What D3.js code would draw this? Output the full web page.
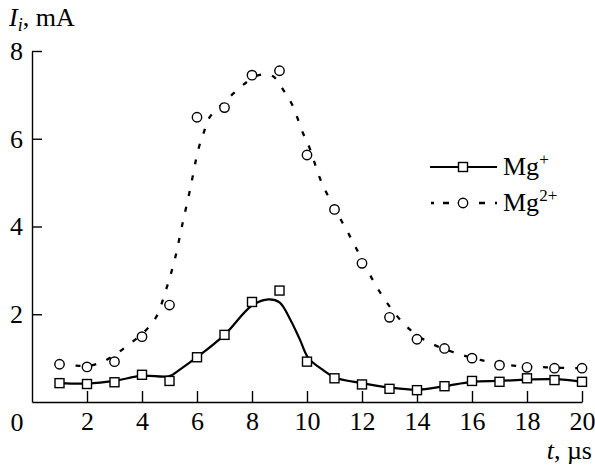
<!DOCTYPE html>
<html>
<head>
<meta charset="utf-8">
<script src="https://cdn.jsdelivr.net/npm/d3@7"></script>
<style>
  body { margin: 0; background: #fff; }
</style>
</head>
<body>
<div id="chart"></div>
<script>
// measured points (t in us, current in mA)
const times = [1,2,3,4,5,6,7,8,9,10,11,12,13,14,15,16,17,18,19,20];
const mgPlus = [0.43,0.41,0.45,0.62,0.48,1.02,1.53,2.28,2.54,0.92,0.54,0.40,0.30,0.27,0.36,0.48,0.46,0.54,0.50,0.46];
const mg2Plus = [0.86,0.80,0.92,1.49,2.21,6.49,6.71,7.45,7.55,5.63,4.39,3.16,1.93,1.43,1.22,1.00,0.84,0.79,0.77,0.77];

// fitted curves as [t, value]
const fitPlus = [[1,0.43],[2,0.42],[3,0.48],[4,0.6],[5,0.59],[5.4,0.75],[6,1.02],[7,1.53],[8,2.2],[8.6,2.34],
  [9,2.27],[9.4,1.87],[9.75,1.41],[10.05,1.0],[10.6,0.72],[11,0.56],[12,0.43],[13,0.33],[14,0.28],[15,0.36],
  [16,0.46],[17,0.48],[18,0.51],[19,0.52],[20,0.46]];
const fit2Plus = [[1,0.86],[1.6,0.83],[2,0.82],[2.5,0.9],[3,1.07],[3.5,1.3],[4,1.55],[4.5,1.92],[4.87,2.55],
  [5.2,3.27],[5.45,4.0],[5.75,4.85],[6.05,5.76],[6.25,6.15],[6.45,6.48],[6.85,6.75],[7.25,6.99],[7.7,7.24],
  [8.25,7.45],[8.75,7.43],[9.13,7.12],[9.45,6.79],[9.86,6.12],[10.1,5.78],[10.5,5.05],[11,4.42],[11.5,3.85],
  [12,3.25],[12.5,2.66],[13,2.18],[13.5,1.8],[14,1.52],[14.7,1.28],[15.3,1.14],[16.3,0.96],[17.5,0.83],
  [18.7,0.79],[20,0.77]];

const xTicks = [2,4,6,8,10,12,14,16,18,20];
const yTicks = [2,4,6,8];
const legendLabels = [["Mg", "+"], ["Mg", "2+"]];

const width = 595, height = 466;
const serif = "Liberation Serif";
const fs = 26;

const svg = d3.select("#chart").append("svg")
  .attr("width", width)
  .attr("height", height)
  .attr("font-family", serif);

const x = d3.scaleLinear().domain([0, 20]).range([32, 582]);
const y = d3.scaleLinear().domain([0, 8]).range([402, 51]);

// axes, ticks point inward
const gx = svg.append("g")
  .attr("transform", `translate(0,${y(0)})`)
  .call(d3.axisBottom(x).tickValues(xTicks).tickSizeInner(-11).tickSizeOuter(0).tickPadding(10));
const gy = svg.append("g")
  .attr("transform", `translate(${x(0)},0)`)
  .call(d3.axisLeft(y).tickValues(yTicks).tickSizeInner(-10).tickSizeOuter(0).tickPadding(9));

[gx, gy].forEach(g => {
  g.attr("font-family", serif).attr("font-size", fs);
  g.selectAll(".domain, line").attr("stroke", "#000").attr("stroke-width", 1.4);
  g.selectAll("text").attr("font-family", serif).attr("fill", "#000");
});

svg.append("text").attr("x", 17).attr("y", 431)
  .attr("text-anchor", "middle").attr("font-size", fs).text("0");

// axis titles
const yt = svg.append("text").attr("x", 9).attr("y", 26).attr("font-size", fs);
yt.append("tspan").attr("font-style", "italic").text("I");
yt.append("tspan").attr("font-style", "italic").attr("font-size", 18).attr("dy", 5).text("i");
yt.append("tspan").attr("dy", -5).text(", mA");

const xt = svg.append("text").attr("x", 592).attr("y", 459).attr("text-anchor", "end").attr("font-size", fs);
xt.append("tspan").attr("font-style", "italic").text("t");
xt.append("tspan").text(", \u00b5s");

const line = d3.line().x(d => x(d[0])).y(d => y(d[1])).curve(d3.curveCatmullRom.alpha(0.5));

svg.append("path").datum(fitPlus)
  .attr("fill", "none").attr("stroke", "#000").attr("stroke-width", 2.2)
  .attr("d", line);

svg.append("path").datum(fit2Plus)
  .attr("fill", "none").attr("stroke", "#000").attr("stroke-width", 2.3)
  .attr("stroke-dasharray", "5,11")
  .attr("d", line);

const sq = 9;
svg.append("g").selectAll("rect")
  .data(times.map((t, i) => [t, mgPlus[i]]))
  .join("rect")
  .attr("x", d => x(d[0]) - sq / 2).attr("y", d => y(d[1]) - sq / 2)
  .attr("width", sq).attr("height", sq)
  .attr("fill", "#fff").attr("stroke", "#000").attr("stroke-width", 1.4);

svg.append("g").selectAll("circle")
  .data(times.map((t, i) => [t, mg2Plus[i]]))
  .join("circle")
  .attr("cx", d => x(d[0])).attr("cy", d => y(d[1])).attr("r", 4.7)
  .attr("fill", "#fff").attr("stroke", "#000").attr("stroke-width", 1.4);

// legend
const lg = svg.append("g");
lg.append("line").attr("x1", 430).attr("x2", 497).attr("y1", 167).attr("y2", 167)
  .attr("stroke", "#000").attr("stroke-width", 2.2);
lg.append("rect").attr("x", 463 - sq / 2).attr("y", 167 - sq / 2).attr("width", sq).attr("height", sq)
  .attr("fill", "#fff").attr("stroke", "#000").attr("stroke-width", 1.4);
lg.append("line").attr("x1", 431).attr("x2", 497).attr("y1", 203).attr("y2", 203)
  .attr("stroke", "#000").attr("stroke-width", 2.3).attr("stroke-dasharray", "3,9,6,30,6,10,6");
lg.append("circle").attr("cx", 463).attr("cy", 203).attr("r", 4.7)
  .attr("fill", "#fff").attr("stroke", "#000").attr("stroke-width", 1.4);

legendLabels.forEach((lab, i) => {
  const t = lg.append("text").attr("x", 503).attr("y", 175 + i * 36).attr("font-size", fs);
  t.append("tspan").text(lab[0]);
  t.append("tspan").attr("font-size", 17).attr("dy", -10).text(lab[1]);
});
</script>
</body>
</html>
